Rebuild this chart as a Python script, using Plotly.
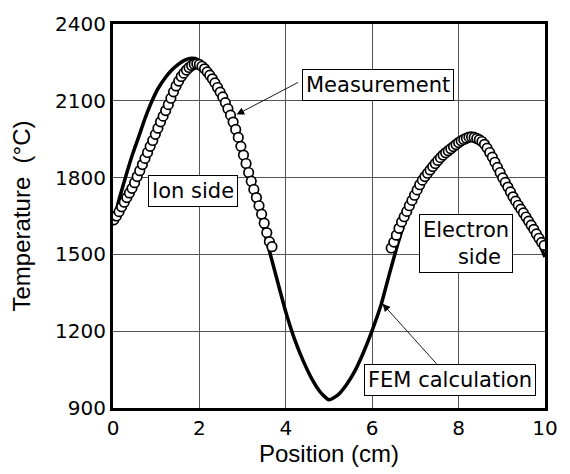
import plotly.graph_objects as go

# FEM calculation curve (Position cm, Temperature °C)
fem_x = [0.0, 0.15, 0.31, 0.45, 0.61, 0.75, 0.91, 1.05, 1.21, 1.35, 1.51, 1.65, 1.81, 1.95,
         2.1, 2.2, 2.4, 2.6, 2.8, 3.0, 3.2, 3.4, 3.6, 3.8, 4.0, 4.2, 4.4, 4.6, 4.8, 5.0,
         5.2, 5.4, 5.6, 5.8, 6.0, 6.2, 6.4, 6.6, 6.8, 7.0, 7.2, 7.5, 7.8, 8.0, 8.2,
         8.35, 8.5, 8.7, 8.9, 9.1, 9.3, 9.5, 9.7, 9.9, 10.0]
fem_t = [1620, 1720, 1813, 1890, 1967, 2035, 2102, 2150, 2190, 2218, 2242, 2258, 2266, 2262,
         2232, 2205, 2155, 2093, 2008, 1905, 1786, 1660, 1527, 1400, 1275, 1170, 1085, 1015, 962, 932,
         950, 990, 1045, 1118, 1203, 1300, 1425, 1545, 1650, 1730, 1792, 1860, 1908, 1932, 1950,
         1953, 1940, 1895, 1835, 1772, 1710, 1655, 1600, 1530, 1490]

# Measurement, ion side
ion_x = [0.02, 0.08, 0.14, 0.20, 0.26, 0.32, 0.38, 0.44, 0.50, 0.56, 0.62, 0.68, 0.74, 0.80,
         0.86, 0.92, 0.98, 1.04, 1.10, 1.16, 1.22, 1.28, 1.34, 1.40, 1.46, 1.52, 1.58, 1.64,
         1.70, 1.76, 1.82, 1.88, 1.94, 2.00, 2.06, 2.12, 2.18, 2.24, 2.30, 2.36, 2.42, 2.48,
         2.54, 2.60, 2.66, 2.72, 2.78, 2.84, 2.90, 2.96, 3.02, 3.08, 3.14, 3.20, 3.26, 3.32,
         3.38, 3.44, 3.50, 3.56, 3.62, 3.68]
ion_t = [1635, 1650, 1667, 1686, 1704, 1722, 1740, 1758, 1780, 1804, 1827, 1851, 1875, 1898,
         1922, 1945, 1969, 1993, 2018, 2040, 2062, 2085, 2110, 2135, 2158, 2177, 2195, 2208,
         2220, 2230, 2238, 2243, 2245, 2242, 2235, 2225, 2213, 2200, 2186, 2170, 2152, 2134,
         2115, 2093, 2069, 2044, 2017, 1988, 1957, 1922, 1888, 1855, 1820, 1786, 1754, 1722,
         1690, 1657, 1622, 1585, 1550, 1530]

# Measurement, electron side
ele_x = [6.44, 6.50, 6.56, 6.62, 6.68, 6.74, 6.80, 6.86, 6.92, 6.98, 7.04, 7.10, 7.16, 7.22,
         7.28, 7.34, 7.40, 7.46, 7.52, 7.58, 7.64, 7.70, 7.76, 7.82, 7.88, 7.94, 8.00, 8.06,
         8.12, 8.18, 8.24, 8.30, 8.36, 8.42, 8.48, 8.54, 8.60, 8.66, 8.72, 8.78, 8.84, 8.90,
         8.96, 9.02, 9.08, 9.14, 9.20, 9.26, 9.32, 9.38, 9.44, 9.50, 9.56, 9.62, 9.68, 9.74,
         9.80, 9.86, 9.92, 9.98]
ele_t = [1525, 1548, 1575, 1602, 1627, 1647, 1668, 1690, 1711, 1731, 1752, 1772, 1790, 1804,
         1817, 1830, 1843, 1855, 1867, 1878, 1888, 1897, 1905, 1913, 1921, 1929, 1937, 1944,
         1949, 1954, 1958, 1959, 1957, 1953, 1948, 1941, 1930, 1915, 1898, 1880, 1860, 1840,
         1820, 1799, 1781, 1763, 1744, 1725, 1708, 1692, 1677, 1662, 1646, 1630, 1614, 1598,
         1580, 1563, 1547, 1535]

x_ticks = [0, 2, 4, 6, 8, 10]
y_ticks = [900, 1200, 1500, 1800, 2100, 2400]

fig = go.Figure()
fig.add_trace(go.Scatter(x=fem_x, y=fem_t, mode="lines",
                         line=dict(color="black", width=3.5, shape="spline", smoothing=0.5),
                         showlegend=False, hoverinfo="skip"))
marker_style = dict(symbol="circle", size=9.5, color="white", line=dict(color="black", width=1.7))
fig.add_trace(go.Scatter(x=ion_x, y=ion_t, mode="markers", marker=marker_style,
                         showlegend=False))
fig.add_trace(go.Scatter(x=ele_x, y=ele_t, mode="markers", marker=marker_style,
                         showlegend=False))

afont = dict(family="DejaVu Sans", size=21, color="black")
box = dict(showarrow=False, bgcolor="white", bordercolor="black", borderwidth=1,
           borderpad=3, font=afont, xref="x", yref="y")

fig.add_annotation(x=6.126, y=2163, text="Measurement", **box)
fig.add_annotation(x=7.79, y=1011, text="FEM calculation", **box)
fig.add_annotation(x=1.847, y=1748, text="Ion side", **box)
fig.add_annotation(x=8.165, y=1542, text="Electron<br>\u00a0\u00a0\u00a0\u00a0side", **box)

arrow = dict(text="", showarrow=True, arrowhead=2, arrowsize=1.7, arrowwidth=0.9,
             arrowcolor="black", xref="x", yref="y", axref="x", ayref="y")
fig.add_annotation(x=2.86, y=2046, ax=4.32, ay=2175, **arrow)
fig.add_annotation(x=6.24, y=1307, ax=7.52, ay=1067, **arrow)

fig.update_xaxes(range=[0, 10], tickvals=x_ticks, ticktext=[str(v) for v in x_ticks],
                 showgrid=True, gridcolor="#555555", gridwidth=1,
                 showline=True, linecolor="black", linewidth=3, mirror=True,
                 ticks="", zeroline=False,
                 tickfont=dict(family="DejaVu Sans", size=20, color="black"),
                 title=dict(text="Position (cm)", standoff=2,
                            font=dict(family="Liberation Sans", size=24, color="black")))
fig.update_yaxes(range=[900, 2400], tickvals=y_ticks, ticktext=[str(v) for v in y_ticks],
                 showgrid=True, gridcolor="#555555", gridwidth=1,
                 showline=True, linecolor="black", linewidth=3, mirror=True,
                 ticks="", zeroline=False,
                 tickfont=dict(family="DejaVu Sans", size=20, color="black"),
                 title=dict(text="Temperature\u00a0\u00a0(°C)", standoff=18,
                            font=dict(family="Liberation Sans", size=24, color="black")))

fig.update_layout(width=570, height=474, margin=dict(l=113, r=13, t=22, b=66),
                  paper_bgcolor="white", plot_bgcolor="white")

fig.write_html("out.html")
